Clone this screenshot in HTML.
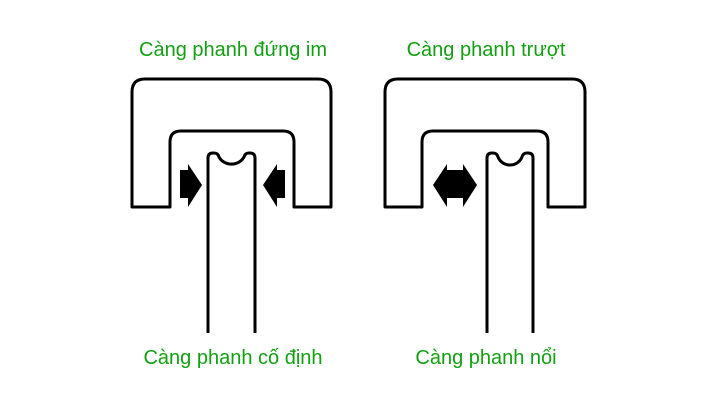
<!DOCTYPE html>
<html><head><meta charset="utf-8"><style>
html,body{margin:0;padding:0;background:#fff;width:717px;height:400px;overflow:hidden}
svg text{font-family:"Liberation Sans",sans-serif;font-size:20px;fill:#12a012}
</style></head><body>
<svg width="717" height="400" viewBox="0 0 717 400" xmlns="http://www.w3.org/2000/svg">
<rect width="717" height="400" fill="#fff"/>
<text x="233" y="56" text-anchor="middle">Càng phanh đứng im</text>
<text x="486" y="56" text-anchor="middle">Càng phanh trượt</text>
<text x="233" y="364" text-anchor="middle">Càng phanh cố định</text>
<text x="486" y="364" text-anchor="middle">Càng phanh nổi</text>
<g fill="none" stroke="#000" stroke-width="3" stroke-linejoin="round">
<path d="M132,207 L132,92 Q132,79 145,79 L318,79 Q331,79 331,92 L331,207 L294,207 L294,142 Q294,131 283,131 L181,131 Q170,131 170,142 L170,207 Z"/>
<path d="M208,333 L208,158 Q208,153 213,153 L214,153 Q218,153 219,157 A14,13 0 0 0 244,157 Q245,153 249,153 L250,153 Q255,153 255,158 L255,333"/>
<path d="M385,207 L385,92 Q385,79 398,79 L572,79 Q585,79 585,92 L585,207 L548,207 L548,142 Q548,131 537,131 L433,131 Q422,131 422,142 L422,207 Z"/>
<path d="M487,333 L487,158 Q487,153 492,153 L493,153 Q497,153 498,157 A13,13 0 0 0 522,157 Q523,153 527,153 L528,153 Q533,153 533,158 L533,333"/>
</g>
<g fill="#000">
<polygon points="180,170 188,170 188,164 202,185 188,207 188,198 180,198"/>
<polygon points="285,170 277,170 277,164 263,185 277,207 277,198 285,198"/>
<polygon points="433,185 447,164 447,170 463,170 463,164 477,185 463,207 463,198 447,198 447,207"/>
</g>
</svg>
</body></html>
